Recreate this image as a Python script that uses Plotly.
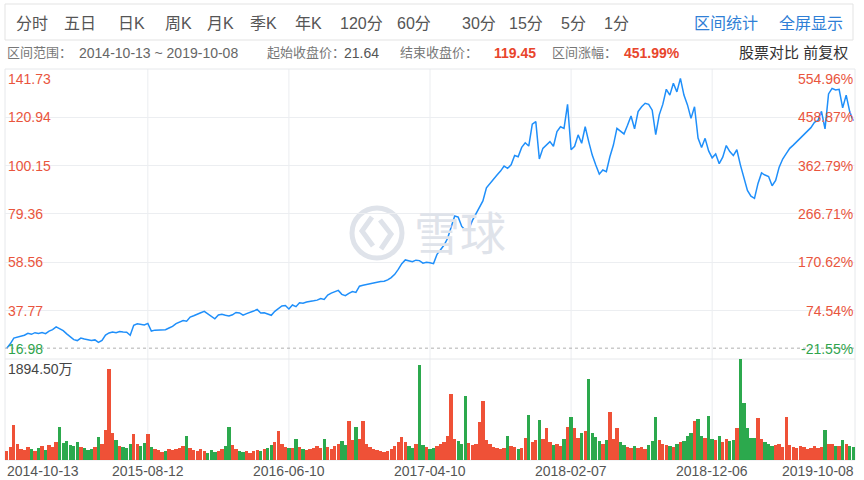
import plotly.graph_objects as go

W, H = 864, 480

# ---------------- data ----------------
date_labels = ["2014-10-13", "2015-08-12", "2016-06-10", "2017-04-10",
               "2018-02-07", "2018-12-06", "2019-10-08"]
date_idx = [0, 40, 80, 120, 160, 200, 240]
price_ticks = [141.73, 120.94, 100.15, 79.36, 58.56, 37.77, 16.98]
pct_labels = ["554.96%", "458.87%", "362.79%", "266.71%", "170.62%", "74.54%", "-21.55%"]
base_close = 21.64
end_close = 119.45
vol_max = 1894.50

tabs = ["分时", "五日", "日K", "周K", "月K", "季K", "年K", "120分", "60分", "30分", "15分", "5分", "1分"]
tab_x = [14, 62, 116, 163, 205, 248, 293, 338, 395, 460, 507, 559, 602]

prices = [
    21.64, 23.5, 26.0, 26.3, 26.9, 27.2, 28.0, 27.6, 28.3, 28.0,
    28.4, 27.9, 29.0, 29.6, 30.8, 30.0, 29.2, 27.8, 26.4, 25.3,
    24.9, 26.0, 25.6, 25.4, 24.9, 25.2, 24.1, 25.0, 27.3, 28.2,
    28.6, 28.3, 28.8, 28.6, 28.5, 27.2, 31.5, 32.1, 32.0, 31.6,
    32.3, 29.0, 29.4, 29.5, 29.8, 29.6, 30.3, 31.0, 32.2, 32.8,
    33.5, 33.2, 35.0, 35.6, 36.4, 36.9, 37.5, 36.5, 35.2, 34.3,
    35.9, 36.2, 35.8, 35.5, 36.0, 37.0, 36.8, 35.8, 36.5, 36.9,
    37.6, 38.3, 36.8, 36.9, 36.3, 35.8, 37.5, 38.6, 39.8, 40.0,
    38.5, 40.2, 39.5, 41.2, 41.0, 41.5, 41.6, 42.0, 42.3, 43.0,
    42.6, 44.5, 45.3, 46.0, 46.5, 44.8, 44.2, 45.2, 46.0, 45.6,
    48.3, 48.7, 49.0, 49.6, 49.9, 50.2, 50.3, 50.4, 51.0, 52.0,
    53.4, 55.5, 58.0, 59.6, 59.2, 58.8, 59.5, 59.3, 58.2, 58.6,
    58.4, 58.0, 62.0, 64.0, 66.0, 68.9, 74.0, 78.5, 78.0, 74.0,
    72.5, 72.8, 76.5, 79.5, 81.8, 85.0, 90.6, 92.6, 94.3, 96.1,
    97.8, 100.0, 99.0, 100.5, 104.5, 104.0, 108.0, 110.0, 108.6, 118.0,
    119.1, 103.0, 107.6, 109.0, 110.5, 108.5, 114.8, 116.9, 116.2, 126.5,
    107.0, 108.5, 113.4, 109.8, 116.9, 110.5, 104.7, 100.4, 96.5, 98.3,
    97.6, 104.0, 109.0, 116.2, 114.8, 113.8, 117.5, 121.5, 116.0, 123.4,
    125.5, 127.0, 126.5, 124.0, 113.5, 122.0, 126.5, 133.0, 130.5, 135.6,
    131.9, 137.7, 130.5, 126.3, 120.5, 125.5, 112.0, 108.0, 111.9, 106.5,
    103.5, 105.2, 101.0, 103.8, 108.8, 106.2, 104.5, 107.0, 100.5, 94.5,
    89.5, 87.0, 86.1, 92.5, 97.0, 96.1, 95.5, 91.5, 93.8, 99.5,
    103.0, 105.3, 107.6, 109.0, 110.5, 111.9, 113.4, 114.8, 116.5, 118.8,
    119.6, 123.5, 116.0, 131.0, 133.4, 132.7, 133.0, 125.0, 130.5, 123.4,
    119.45,
]

volumes = [  # 万股
    160, 240, 656, 300, 210, 180, 250, 200, 170, 230,
    260, 190, 280, 240, 330, 620, 310, 350, 280, 260,
    330, 250, 220, 180, 200, 240, 431, 300, 560, 1707,
    500, 380, 270, 240, 230, 300, 488, 300, 260, 310,
    488, 240, 200, 180, 150, 170, 210, 180, 200, 230,
    260, 450, 220, 190, 170, 200, 160, 140, 180, 150,
    170, 210, 260, 620, 280, 200, 170, 150, 160, 140,
    170, 190, 160, 210, 230, 280, 330, 545, 300, 250,
    230, 220, 394, 240, 200, 180, 210, 230, 260, 220,
    394, 240, 200, 260, 300, 350, 280, 732, 380, 620,
    400, 732, 300, 250, 210, 180, 160, 150, 170, 200,
    260, 330, 431, 340, 260, 220, 300, 1782, 280, 240,
    210, 230, 260, 300, 330, 450, 1238, 400, 350, 300,
    1200, 320, 280, 300, 713, 1107, 380, 300, 250, 230,
    200, 220, 450, 260, 240, 210, 230, 420, 844, 330,
    380, 750, 400, 600, 330, 280, 300, 260, 400, 620,
    806, 600, 420, 500, 550, 1520, 500, 431, 350, 300,
    380, 900, 400, 600, 330, 280, 250, 230, 260, 220,
    240, 210, 280, 350, 806, 380, 300, 280, 260, 240,
    300, 330, 350, 450, 500, 732, 770, 450, 420, 825,
    400, 380, 450, 330, 400, 350, 380, 600, 1894.5, 1070,
    600, 420, 420, 788, 400, 330, 300, 260, 280, 300,
    250, 806, 280, 250, 230, 260, 240, 210, 230, 260,
    220, 250, 563, 300, 300, 260, 260, 375, 300, 260,
    250,
]

# ---------------- helpers ----------------
def py(y):
    return 1 - y / H

def fx(x):
    return x / W

RED = "#ee3f22"
GREEN = "#16a03a"
LBL_RED = "#e9553d"
LBL_GREEN = "#2fa44c"
FONT = "Liberation Sans, Arial, Noto Sans CJK SC, sans-serif"

n = len(prices)
xs = list(range(n))
bar_colors = []
prev = base_close
for p in prices:
    bar_colors.append(RED if p >= prev else GREEN)
    prev = p

fig = go.Figure()
fig.add_trace(go.Bar(x=xs, y=volumes, marker=dict(color=bar_colors, line=dict(width=0)),
                     width=0.95, opacity=0.9, xaxis="x", yaxis="y2", hoverinfo="skip"))
fig.add_trace(go.Scatter(x=xs, y=prices, mode="lines",
                         line=dict(color="#1f8ffa", width=1.5),
                         xaxis="x", yaxis="y", hoverinfo="skip"))

shapes = []
# vertical grid lines
for i in date_idx[1:-1]:
    shapes.append(dict(type="line", xref="x", yref="paper", x0=i, x1=i,
                       y0=py(460), y1=py(69), line=dict(color="#ebedf0", width=1), layer="below"))
# chart border
shapes.append(dict(type="rect", xref="paper", yref="paper", x0=fx(5), x1=fx(855),
                   y0=py(460), y1=py(69), line=dict(color="#e6e8eb", width=1), layer="below"))
# panel separator
shapes.append(dict(type="line", xref="paper", yref="paper", x0=fx(5), x1=fx(855),
                   y0=py(359), y1=py(359), line=dict(color="#e6e8eb", width=1), layer="below"))
# base close dotted line
shapes.append(dict(type="line", xref="paper", yref="y", x0=fx(5), x1=fx(855),
                   y0=base_close, y1=base_close, line=dict(color="#b0b0b0", width=1, dash="dot")))
# tab box
shapes.append(dict(type="rect", xref="paper", yref="paper", x0=fx(5), x1=fx(853),
                   y0=py(40), y1=py(4), line=dict(color="#e3e3e3", width=1)))
# watermark logo
WM = "#dfe3ea"
shapes.append(dict(type="circle", xref="paper", yref="paper", x0=fx(352), x1=fx(402),
                   y0=py(258), y1=py(208), line=dict(color=WM, width=5), layer="below"))
shapes.append(dict(type="path", xref="paper", yref="paper",
                   path=f"M {fx(372)},{py(217)} L {fx(362)},{py(231)} L {fx(373)},{py(246)}",
                   line=dict(color=WM, width=5), layer="below"))
shapes.append(dict(type="path", xref="paper", yref="paper",
                   path=f"M {fx(380)},{py(220)} L {fx(391)},{py(234)} L {fx(381)},{py(249)}",
                   line=dict(color=WM, width=5), layer="below"))

ann = []
def A(text, x, y, size, color, xanchor="left", yanchor="middle", xref="paper", yref="paper"):
    ann.append(dict(text=text, x=x, y=y, xref=xref, yref=yref, xanchor=xanchor,
                    yanchor=yanchor, showarrow=False,
                    font=dict(size=size, color=color, family=FONT)))

# watermark text
A("雪球", fx(412), py(234), 46, WM)

# tabs
for t, x in zip(tabs, tab_x):
    A(t, fx(x), py(23), 16, "#555555")
A("区间统计", fx(692), py(23), 16, "#2f7fd6")
A("全屏显示", fx(777), py(23), 16, "#2f7fd6")

# info row
A("区间范围：", fx(5), py(53), 13, "#777777")
A("2014-10-13 ~ 2019-10-08", fx(77), py(53), 14, "#666666")
A("起始收盘价：", fx(265), py(53), 13, "#777777")
A("21.64", fx(342), py(53), 14, "#555555")
A("结束收盘价：", fx(398), py(53), 13, "#777777")
A("<b>%.2f</b>" % end_close, fx(492), py(53), 14, "#e8452c")
A("区间涨幅：", fx(550), py(53), 13, "#777777")
A("<b>451.99%</b>", fx(622), py(53), 14, "#e8452c")
A("股票对比 前复权", fx(850), py(53), 15, "#333333", xanchor="right")

# price / percent labels
last = len(price_ticks) - 1
for k, (v, pl) in enumerate(zip(price_ticks, pct_labels)):
    col = LBL_GREEN if v < base_close else LBL_RED
    ya = "top" if k == 0 else ("bottom" if k == last else "middle")
    A("%.2f" % v, fx(6), v, 14, col, yanchor=ya, yref="y")
    A(pl, fx(855), v, 14, col, xanchor="right", yanchor=ya, yref="y")

# volume max label
A("%.2f万" % vol_max, fx(6), py(369), 14, "#444444")

# date labels
for k, (d, i) in enumerate(zip(date_labels, date_idx)):
    if k == 0:
        A(d, fx(5), py(471), 14, "#555555", xanchor="left")
    elif k == len(date_labels) - 1:
        A(d, fx(856), py(471), 14, "#555555", xanchor="right")
    else:
        A(d, i, py(471), 14, "#555555", xanchor="center", xref="x")

fig.update_layout(
    width=W, height=H,
    margin=dict(l=0, r=0, t=0, b=0),
    paper_bgcolor="white", plot_bgcolor="rgba(0,0,0,0)",
    showlegend=False, bargap=0,
    font=dict(family=FONT),
    xaxis=dict(domain=[fx(5), fx(855)], range=[-0.5, n - 0.5], anchor="y2",
               showgrid=False, zeroline=False, showticklabels=False, showline=False,
               fixedrange=True),
    yaxis=dict(domain=[py(359), py(69)], range=[price_ticks[-1], price_ticks[0]],
               anchor="x", tickvals=price_ticks[1:-1], showgrid=True, gridcolor="#eceef1",
               zeroline=False, showticklabels=False, showline=False, fixedrange=True),
    yaxis2=dict(domain=[py(460), py(359)], range=[0, vol_max], anchor="x",
                showgrid=False, zeroline=False, showticklabels=False, showline=False,
                fixedrange=True),
    shapes=shapes, annotations=ann,
)

fig.write_html("out.html", config={"displayModeBar": False},
               post_script="document.body.style.margin='0';document.body.style.overflow='hidden';")
